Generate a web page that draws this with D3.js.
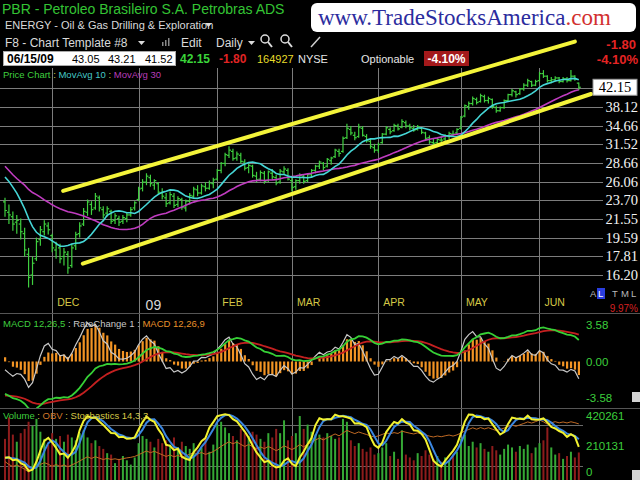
<!DOCTYPE html>
<html>
<head>
<meta charset="utf-8">
<script src="https://cdn.jsdelivr.net/npm/d3@7"></script>
<style>
body { margin: 0; background: #000; }
svg { display: block; }
text { font-family: "Liberation Sans", Arial, sans-serif; }
</style>
</head>
<body>
<svg id="chart" width="640" height="480"></svg>
<script>
// closes before the first visible bar, only used to warm up the indicators
var priorCloses = [41, 40, 38.5, 37, 34, 31, 32.5, 29, 27, 29.5, 31, 29, 28, 26, 24.5,
    23, 22, 21.5, 23, 25, 27, 28, 28.5, 29, 29.5, 28, 27, 26, 25, 23.5];

var opens = [23.5, 22.3, 21.8, 21.2, 21.0, 20.0, 18.0, 16.2, 17.6, 19.4,
    20.2, 20.8, 19.8, 18.4, 18.6, 17.8, 18.0, 17.0, 18.8, 20.0,
    21.0, 22.3, 23.2, 22.8, 24.0, 22.6, 22.2, 22.4, 21.4, 21.6,
    21.3, 21.6, 22.0, 22.8, 23.8, 25.2, 26.0, 26.6, 25.6, 25.8,
    24.6, 24.0, 23.4, 24.2, 23.2, 23.8, 22.8, 23.6, 24.2, 25.0,
    24.6, 25.4, 25.2, 25.8, 26.4, 27.6, 28.6, 29.8, 30.4, 29.4,
    29.8, 28.8, 28.0, 28.2, 26.8, 26.4, 27.2, 26.2, 27.2, 26.6,
    26.0, 27.4, 27.6, 26.2, 25.4, 26.2, 26.8, 26.2, 27.0, 27.6,
    28.2, 28.6, 28.2, 29.0, 29.6, 30.4, 30.4, 32.6, 34.0, 33.0,
    32.8, 34.2, 32.8, 32.0, 31.0, 30.6, 31.8, 33.2, 34.0, 33.8,
    34.6, 34.4, 35.2, 34.6, 34.2, 34.0, 34.2, 33.4, 32.6, 31.8,
    31.8, 32.2, 32.4, 32.8, 33.2, 33.4, 34.2, 36.4, 38.2, 38.8,
    39.6, 39.2, 40.2, 39.4, 39.6, 38.0, 37.4, 38.0, 39.4, 40.6,
    41.2, 40.8, 41.8, 42.6, 43.4, 42.6, 43.6, 45.2, 44.6, 43.6,
    43.8, 44.2, 43.4, 44.0, 43.6, 44.6, 43.05];

var highs = [24.0, 23.2, 22.4, 22.0, 21.6, 20.6, 18.6, 17.8, 19.6, 20.8,
    21.4, 21.2, 20.0, 19.2, 19.0, 18.6, 18.3, 19.0, 20.2, 21.2,
    22.8, 23.8, 23.6, 24.6, 24.3, 23.0, 23.0, 22.6, 22.2, 21.9,
    22.0, 22.3, 22.9, 23.6, 25.4, 26.4, 27.2, 27.0, 26.4, 26.0,
    25.2, 24.6, 24.8, 24.6, 24.2, 24.0, 23.8, 24.6, 25.4, 25.6,
    25.8, 26.0, 26.2, 26.6, 27.8, 28.8, 30.2, 31.2, 30.8, 30.4,
    30.2, 29.2, 28.6, 28.4, 27.4, 27.6, 27.5, 27.6, 27.8, 27.0,
    27.8, 28.2, 27.9, 26.6, 26.4, 27.2, 27.0, 27.2, 27.8, 28.4,
    29.0, 28.8, 29.4, 29.6, 30.8, 30.8, 32.8, 35.0, 34.6, 33.6,
    35.0, 34.6, 33.2, 32.4, 31.6, 31.8, 33.4, 34.6, 34.4, 35.0,
    35.0, 35.8, 35.6, 35.0, 34.8, 34.8, 34.4, 33.6, 33.0, 32.4,
    32.6, 32.8, 33.2, 33.6, 33.8, 34.2, 36.4, 38.6, 39.2, 40.2,
    40.0, 40.8, 40.6, 40.2, 39.8, 38.4, 38.2, 39.6, 40.8, 41.8,
    41.4, 42.0, 43.0, 44.0, 43.6, 43.8, 45.6, 46.0, 44.8, 44.4,
    44.6, 44.4, 44.4, 44.4, 46.0, 44.8, 43.21];

var lows = [21.8, 21.0, 20.3, 20.0, 19.4, 17.8, 15.2, 15.4, 17.4, 18.8,
    19.8, 19.9, 18.2, 17.6, 17.2, 17.0, 16.3, 16.8, 18.4, 19.6,
    20.8, 21.9, 22.0, 22.6, 22.4, 21.6, 21.8, 21.0, 21.0, 20.8,
    21.0, 21.2, 21.8, 22.5, 23.6, 24.8, 25.6, 25.4, 25.0, 24.4,
    23.8, 22.9, 23.2, 22.8, 22.9, 22.6, 22.4, 23.2, 23.9, 24.2,
    24.4, 24.8, 25.0, 25.2, 26.2, 27.2, 28.2, 29.4, 29.0, 29.0,
    28.6, 27.6, 27.2, 26.6, 25.9, 26.1, 25.8, 26.0, 26.4, 25.6,
    25.8, 27.0, 26.2, 24.8, 25.0, 25.8, 25.8, 26.0, 26.6, 27.2,
    27.8, 27.6, 28.0, 28.4, 29.4, 29.6, 30.2, 32.4, 33.0, 32.2,
    32.6, 32.8, 31.8, 30.8, 30.2, 30.2, 31.6, 33.0, 33.2, 33.6,
    33.8, 34.2, 34.2, 33.8, 33.6, 33.8, 33.2, 32.2, 31.6, 31.2,
    31.4, 31.8, 32.0, 32.4, 32.8, 33.0, 34.0, 36.2, 37.6, 38.4,
    38.6, 39.0, 39.0, 38.8, 37.8, 37.0, 37.2, 37.8, 39.2, 40.2,
    40.0, 40.6, 41.4, 42.2, 42.2, 42.4, 43.4, 44.2, 43.2, 43.0,
    43.4, 43.0, 43.2, 43.2, 43.4, 43.6, 41.52];

var closes = [22.5, 22.0, 21.0, 21.4, 20.2, 18.4, 16.0, 17.2, 19.2, 20.4,
    21.0, 20.4, 18.6, 18.9, 17.6, 18.2, 16.8, 18.6, 19.9, 20.8,
    22.4, 23.5, 22.6, 24.2, 22.8, 22.0, 22.7, 21.3, 21.9, 21.2,
    21.7, 22.0, 22.6, 23.4, 25.1, 26.0, 26.8, 25.8, 26.2, 24.7,
    24.2, 23.3, 24.4, 23.1, 23.9, 22.9, 23.6, 24.3, 25.1, 24.6,
    25.5, 25.2, 25.9, 26.3, 27.6, 28.6, 29.9, 30.6, 29.3, 30.0,
    28.9, 27.9, 28.3, 26.9, 26.3, 27.3, 26.1, 27.4, 26.7, 25.9,
    27.5, 27.8, 26.4, 25.3, 26.2, 26.9, 26.1, 27.0, 27.6, 28.2,
    28.8, 28.0, 29.2, 29.4, 30.6, 30.1, 32.5, 34.2, 33.4, 32.6,
    34.4, 33.0, 32.1, 31.2, 30.6, 31.5, 33.2, 34.3, 33.6, 34.7,
    34.1, 35.4, 34.6, 34.3, 33.9, 34.5, 33.5, 32.5, 31.9, 31.7,
    32.3, 32.2, 32.9, 33.3, 33.2, 34.0, 36.2, 38.4, 38.8, 39.8,
    39.0, 40.4, 39.4, 39.8, 38.2, 37.4, 38.0, 39.4, 40.6, 41.4,
    40.6, 41.8, 42.6, 43.6, 42.6, 43.4, 45.2, 44.6, 43.6, 43.8,
    44.2, 43.4, 44.0, 43.6, 44.6, 43.95, 42.15];

var volumes = [260000, 410000, 290000, 240000, 300000, 330000, 380000, 350000, 400000, 310000, 260000, 220000,
    300000, 260000, 280000, 240000, 290000, 270000, 250000, 300000, 320000, 270000, 230000,
    250000, 210000, 190000, 160000, 150000, 90000, 120000, 140000, 110000, 80000, 130000,
    230000, 280000, 260000, 240000, 200000, 260000, 230000, 250000, 220000, 270000,
    200000, 240000, 210000, 190000, 230000, 180000, 200000, 260000, 170000, 220000,
    360000, 380000, 340000, 300000, 280000, 250000, 330000, 300000, 280000, 310000,
    290000, 260000, 240000, 300000, 270000, 330000, 300000, 390000, 250000,
    280000, 300000, 420000, 330000, 360000, 310000, 290000, 290000, 270000, 300000, 280000,
    260000, 270000, 400000, 380000, 250000, 210000, 230000, 190000, 170000, 200000, 150000,
    160000, 200000, 230000, 140000, 170000, 120000, 320000, 150000, 130000, 110000, 160000,
    140000, 180000, 150000, 120000, 140000, 100000, 130000, 110000, 150000, 170000,
    260000, 290000, 210000, 240000, 200000, 230000, 190000, 170000, 210000, 180000,
    150000, 190000, 220000, 200000, 170000, 210000, 190000, 220000, 160000, 200000,
    230000, 250000, 340000, 200000, 150000, 160000, 120000, 140000, 170000, 130000, 164927];

var monthLabels = ["DEC", "09", "FEB", "MAR", "APR", "MAY", "JUN"];
var monthStarts = [12, 34, 54, 73, 95, 116, 136];
var priceTicks = [16.20, 17.81, 19.59, 21.55, 23.70, 26.06, 28.66, 31.52, 34.66, 38.12, 41.93];
var macdTicks = [3.58, 0, -3.58];
var volumeTicks = [420261, 210131, 0];
// trend channel: [bar index, price] at each end
var channelUpper = [[14.8, 24.87], [145.0, 53.19]];
var channelLower = [[19.8, 17.16], [149.1, 40.73]];

var svg = d3.select("#chart");
var N = closes.length;
var plotRight = 583;

svg.append("rect").attr("width", 640).attr("height", 480).attr("fill", "#000");

var x = d3.scaleLinear().domain([0, N - 1]).range([5, 578.8]);
var y = d3.scaleLog().domain([16.20, 41.93]).range([275, 88.3]);
var yMacdAxis = d3.scaleLinear().domain([-3.58, 3.58]).range([398, 325]);
var yVol = d3.scaleLinear().domain([0, 420261]).range([476, 416]);
var yStoch = d3.scaleLinear().domain([0, 100]).range([479, 412]);

// ---- indicators
var allCloses = priorCloses.concat(closes);
var off = priorCloses.length;
function sma(arr, n, i) {
    var s = 0, k = 0;
    for (var j = Math.max(0, i - n + 1); j <= i; j++) { s += arr[j]; k++; }
    return s / k;
}
function ema(arr, n) {
    var k = 2 / (n + 1), prev = arr[0];
    return arr.map(function(v, i) { prev = i ? v * k + prev * (1 - k) : v; return prev; });
}
var ma10 = closes.map(function(c, i) { return sma(allCloses, 10, i + off); });
var ma30 = closes.map(function(c, i) { return sma(allCloses, 30, i + off); });
var e12 = ema(allCloses, 12), e26 = ema(allCloses, 26);
var macdAll = e12.map(function(v, i) { return v - e26[i]; });
var sigAll = ema(macdAll, 9);
var macd = macdAll.slice(off), signal = sigAll.slice(off);
var hist = macd.map(function(v, i) { return v - signal[i]; });
var rocAll = macdAll.map(function(v, i) { return i ? v - macdAll[i - 1] : 0; });
var roc = ema(rocAll, 4).slice(off);

var rawK = closes.map(function(c, i) {
    var s = Math.max(0, i - 13);
    var hh = d3.max(highs.slice(s, i + 1)), ll = d3.min(lows.slice(s, i + 1));
    return hh > ll ? 100 * (c - ll) / (hh - ll) : 50;
});
var slowK = rawK.map(function(v, i) { return d3.mean(rawK.slice(Math.max(0, i - 2), i + 1)); });
var stochD = slowK.map(function(v, i) { return d3.mean(slowK.slice(Math.max(0, i - 2), i + 1)); });

var acc = 0;
var obv = closes.map(function(c, i) {
    if (i > 0 && c > closes[i - 1]) acc += volumes[i];
    if (i > 0 && c < closes[i - 1]) acc -= volumes[i];
    return acc;
});

// ---- grid
var grid = svg.append("g").attr("stroke", "#7c7c7c").attr("shape-rendering", "crispEdges");
grid.selectAll(".hg").data(priceTicks).enter().append("line")
    .attr("x1", 0).attr("x2", 603)
    .attr("y1", function(d) { return Math.round(y(d)) + 0.5; })
    .attr("y2", function(d) { return Math.round(y(d)) + 0.5; });
grid.selectAll(".vg").data(monthStarts).enter().append("line")
    .attr("x1", function(d) { return Math.round(x(d)) + 0.5; })
    .attr("x2", function(d) { return Math.round(x(d)) + 0.5; })
    .attr("y1", 68).attr("y2", 480);
grid.selectAll(".sg").data([80, 20]).enter().append("line")
    .attr("x1", 0).attr("x2", plotRight)
    .attr("y1", function(d) { return Math.round(yStoch(d)) + 0.5; })
    .attr("y2", function(d) { return Math.round(yStoch(d)) + 0.5; })
    .attr("stroke", "#6a6a6a");
svg.append("g").attr("stroke", "#555").attr("shape-rendering", "crispEdges")
    .selectAll("line").data([313.5, 408.5]).enter().append("line")
    .attr("x1", 0).attr("x2", 640).attr("y1", function(d) { return d; }).attr("y2", function(d) { return d; });

// ---- price bars
var idx = d3.range(N);
var barG = svg.append("g").attr("stroke", "#3fcf3f").attr("stroke-width", 1.2);
barG.selectAll(".hl").data(idx).enter().append("line")
    .attr("x1", function(i) { return x(i); }).attr("x2", function(i) { return x(i); })
    .attr("y1", function(i) { return y(highs[i]); }).attr("y2", function(i) { return y(lows[i]); });
barG.selectAll(".op").data(idx).enter().append("line")
    .attr("x1", function(i) { return x(i) - 2; }).attr("x2", function(i) { return x(i); })
    .attr("y1", function(i) { return y(opens[i]); }).attr("y2", function(i) { return y(opens[i]); });
barG.selectAll(".cl").data(idx).enter().append("line")
    .attr("x1", function(i) { return x(i); }).attr("x2", function(i) { return x(i) + 2; })
    .attr("y1", function(i) { return y(closes[i]); }).attr("y2", function(i) { return y(closes[i]); });

var line = d3.line().x(function(d, i) { return x(i); });
svg.append("path").datum(ma30).attr("fill", "none").attr("stroke", "#c03cc0").attr("stroke-width", 1.6)
    .attr("d", line.y(function(d) { return y(d); }));
svg.append("path").datum(ma10).attr("fill", "none").attr("stroke", "#45d6d6").attr("stroke-width", 1.6)
    .attr("d", line.y(function(d) { return y(d); }));

svg.selectAll(".chan").data([channelUpper, channelLower]).enter().append("line")
    .attr("x1", function(d) { return x(d[0][0]); }).attr("y1", function(d) { return y(d[0][1]); })
    .attr("x2", function(d) { return x(d[1][0]); }).attr("y2", function(d) { return y(d[1][1]); })
    .attr("stroke", "#f4f43a").attr("stroke-width", 4).attr("stroke-linecap", "round");

// ---- price axis
svg.selectAll(".pt").data(priceTicks.slice(0, -1)).enter().append("text")
    .attr("x", 638).attr("y", function(d) { return y(d) + 5; })
    .attr("text-anchor", "end").attr("fill", "#f2f2f2")
    .style("font-family", "'Liberation Serif', serif").style("font-size", "14.5px")
    .text(function(d) { return d.toFixed(2); });
var last = closes[N - 1];
svg.append("rect").attr("x", 593).attr("y", y(last) - 8).attr("width", 44).attr("height", 16)
    .attr("fill", "#fff").attr("stroke", "#999");
svg.append("text").attr("x", 615).attr("y", y(last) + 5).attr("text-anchor", "middle").attr("fill", "#000")
    .style("font-family", "'Liberation Serif', serif").style("font-size", "14.5px").text(last.toFixed(2));

svg.selectAll(".ml").data(monthLabels).enter().append("text")
    .attr("x", function(d, i) { return x(monthStarts[i]) + (d == "09" ? 7 : 5); })
    .attr("y", function(d) { return d == "09" ? 310 : 306; })
    .attr("fill", function(d) { return d == "09" ? "#d8d8d8" : "#d6c846"; })
    .style("font-size", function(d) { return d == "09" ? "14px" : "10.5px"; })
    .text(function(d) { return d; });

// ---- MACD panel
svg.append("clipPath").attr("id", "clipM").append("rect").attr("x", 0).attr("y", 314).attr("width", plotRight).attr("height", 94);
var mG = svg.append("g").attr("clip-path", "url(#clipM)");
var lineMax = d3.max(macd.concat(signal), function(d) { return Math.abs(d); });
var yMacd = d3.scaleLinear().domain([-lineMax, lineMax]).range([410, 314]);
var histMax = d3.max(hist, function(d) { return Math.abs(d); });
var yHist = d3.scaleLinear().domain([-histMax, histMax]).range([398, 325]);
var rocMax = d3.max(roc, function(d) { return Math.abs(d); });
var yRoc = d3.scaleLinear().domain([-rocMax, rocMax]).range([400, 323]);
mG.selectAll(".hb").data(hist).enter().append("rect")
    .attr("x", function(d, i) { return x(i) - 1; }).attr("width", 2.2)
    .attr("y", function(d) { return Math.min(yHist(d), yHist(0)); })
    .attr("height", function(d) { return Math.abs(yHist(d) - yHist(0)); })
    .attr("fill", "#f29424");
mG.append("path").datum(roc).attr("fill", "none").attr("stroke", "#c8c8c8").attr("stroke-width", 1.2)
    .attr("d", line.y(function(d) { return yRoc(d); }));
mG.append("path").datum(signal).attr("fill", "none").attr("stroke", "#c42020").attr("stroke-width", 1.8)
    .attr("d", line.y(function(d) { return yMacd(d); }));
mG.append("path").datum(macd).attr("fill", "none").attr("stroke", "#36d036").attr("stroke-width", 1.8)
    .attr("d", line.y(function(d) { return yMacd(d); }));
svg.selectAll(".mt").data(macdTicks).enter().append("text")
    .attr("x", 586).attr("y", function(d) { return yMacdAxis(d) + 4; })
    .attr("fill", "#3ccf3c").style("font-size", "11.5px")
    .text(function(d) { return d.toFixed(2); });

// ---- volume panel
svg.append("clipPath").attr("id", "clipV").append("rect").attr("x", 0).attr("y", 409).attr("width", plotRight).attr("height", 71);
var vG = svg.append("g").attr("clip-path", "url(#clipV)");
vG.selectAll(".vb").data(volumes).enter().append("rect")
    .attr("x", function(d, i) { return x(i) - 1; }).attr("width", 2)
    .attr("y", function(d) { return yVol(d); })
    .attr("height", function(d) { return 480 - yVol(d); })
    .attr("fill", function(d, i) {
        var up = i == 0 ? closes[i] >= opens[i] : closes[i] >= closes[i - 1];
        return up ? "#35a835" : "#8e1c1c";
    });
var yObv = d3.scaleLinear().domain(d3.extent(obv)).range([472, 420]);
vG.append("path").datum(obv).attr("fill", "none").attr("stroke", "#c06a24").attr("stroke-width", 1)
    .attr("d", line.y(function(d) { return yObv(d); }));
vG.append("path").datum(stochD).attr("fill", "none").attr("stroke", "#3a86e0").attr("stroke-width", 2)
    .attr("d", line.y(function(d) { return yStoch(d); }));
vG.append("path").datum(slowK).attr("fill", "none").attr("stroke", "#f2f230").attr("stroke-width", 2)
    .attr("d", line.y(function(d) { return yStoch(d); }));
svg.selectAll(".vt").data(volumeTicks).enter().append("text")
    .attr("x", 586).attr("y", function(d) { return Math.min(yVol(d) + 4, 476); })
    .attr("fill", "#3ccf3c").style("font-size", "11.5px")
    .text(function(d) { return d; });

svg.selectAll(".sq").data([392, 470]).enter().append("rect")
    .attr("x", 632).attr("y", function(d) { return d; }).attr("width", 8).attr("height", 10).attr("fill", "#d4d4d4");

// ---- legends
function legend(yy, parts) {
    var t = svg.append("text").attr("x", 3).attr("y", yy).style("font-size", "9.5px");
    parts.forEach(function(p) { t.append("tspan").attr("fill", p[1]).text(p[0]); });
}
legend(78, [["Price Chart", "#3fcf3f"], [" : ", "#d6c846"], ["MovAvg 10", "#45c8c8"], [" : ", "#d6c846"], ["MovAvg 30", "#b83cb8"]]);
legend(327, [["MACD 12,26,5", "#3fcf3f"], [" : RateChange 1 : ", "#c8c8c8"], ["MACD 12,26,9", "#e8902a"]]);
legend(419, [["Volume", "#3fcf3f"], [" : ", "#d6c846"], ["OBV", "#d0782a"], [" : ", "#d6c846"], ["Stochastics 14,3,3", "#d6c846"]]);

// ---- header
svg.append("text").attr("x", 2).attr("y", 14).attr("fill", "#34c434").style("font-size", "14px")
    .text("PBR - Petroleo Brasileiro S.A. Petrobras ADS");
svg.append("text").attr("x", 5).attr("y", 29).attr("fill", "#dadada").style("font-size", "11px")
    .text("ENERGY - Oil & Gas Drilling & Exploration");
svg.append("text").attr("x", 5).attr("y", 47).attr("fill", "#dadada").style("font-size", "12px")
    .text("F8 - Chart Template #8");
svg.append("text").attr("x", 181).attr("y", 47).attr("fill", "#dadada").style("font-size", "12px").text("Edit");
svg.append("text").attr("x", 216).attr("y", 47).attr("fill", "#dadada").style("font-size", "12px").text("Daily");
svg.selectAll(".arr").data([[205, 23], [138, 41], [248, 41]]).enter().append("path")
    .attr("d", function(d) { return "M" + d[0] + "," + d[1] + "h7l-3.5,4z"; }).attr("fill", "#dadada");
svg.selectAll(".ib").data([[162, 4], [165, 6], [168, 8]]).enter().append("rect")
    .attr("x", function(d) { return d[0]; }).attr("y", function(d) { return 46 - d[1]; })
    .attr("width", 1.5).attr("height", function(d) { return d[1]; }).attr("fill", "#888");
svg.selectAll(".mag").data([265, 285]).enter().append("circle")
    .attr("cx", function(d) { return d; }).attr("cy", 39).attr("r", 4)
    .attr("fill", "none").attr("stroke", "#dcdcdc").attr("stroke-width", 1.5);
svg.selectAll(".magh").data([265, 285]).enter().append("line")
    .attr("x1", function(d) { return d + 3; }).attr("y1", 42).attr("x2", function(d) { return d + 7; }).attr("y2", 47)
    .attr("stroke", "#dcdcdc").attr("stroke-width", 2);
svg.append("line").attr("x1", 311).attr("y1", 47).attr("x2", 320).attr("y2", 37).attr("stroke", "#cfcfcf").attr("stroke-width", 1.5);

svg.append("rect").attr("x", 3.5).attr("y", 51.5).attr("width", 172).attr("height", 14).attr("fill", "#fff").attr("stroke", "#aaa");
var quote = [["06/15/09", 7, "#000", "bold", "12px"], ["43.05", 72, "#000", "normal", "11px"], ["43.21", 108, "#000", "normal", "11px"],
    ["41.52", 145, "#000", "normal", "11px"], ["42.15", 180, "#3ad43a", "bold", "12px"], ["-1.80", 219, "#e02424", "bold", "12px"],
    ["164927", 257, "#e6dc2a", "normal", "11px"], ["NYSE", 298, "#e6e6e6", "normal", "11px"], ["Optionable", 361, "#e6e6e6", "normal", "11px"]];
svg.selectAll(".q").data(quote).enter().append("text")
    .attr("x", function(d) { return d[1]; }).attr("y", 63)
    .attr("fill", function(d) { return d[2]; }).style("font-weight", function(d) { return d[3]; })
    .style("font-size", function(d) { return d[4]; }).text(function(d) { return d[0]; });
svg.append("rect").attr("x", 424).attr("y", 51).attr("width", 45).attr("height", 15).attr("fill", "#a3191b");
svg.append("text").attr("x", 446.5).attr("y", 63).attr("text-anchor", "middle").attr("fill", "#fff")
    .style("font-weight", "bold").style("font-size", "12px").text("-4.10%");

svg.append("rect").attr("x", 311).attr("y", 3).attr("width", 325).attr("height", 29).attr("rx", 6).attr("fill", "#fff");
var site = svg.append("text").attr("x", 318).attr("y", 25)
    .style("font-family", "'Liberation Serif', serif").style("font-size", "23px");
site.append("tspan").attr("fill", "#2c2c9e").text("www.TradeStocksAmerica");
site.append("tspan").attr("fill", "#d23030").text(".com");

svg.append("text").attr("x", 636).attr("y", 49).attr("text-anchor", "end").attr("fill", "#e52424")
    .style("font-weight", "bold").style("font-size", "13px").text("-1.80");
svg.append("text").attr("x", 638).attr("y", 64).attr("text-anchor", "end").attr("fill", "#e52424")
    .style("font-weight", "bold").style("font-size", "13px").text("-4.10%");

svg.append("rect").attr("x", 597).attr("y", 288).attr("width", 8).attr("height", 11).attr("fill", "#2a3ee0");
svg.selectAll(".tm").data(["A", "L", "T", "M", "L"]).enter().append("text")
    .attr("x", function(d, i) { return [590, 598, 612, 621, 631][i]; }).attr("y", 297)
    .attr("fill", function(d, i) { return i == 1 ? "#fff" : "#b8b8b8"; }).style("font-size", "9.5px")
    .text(function(d) { return d; });
svg.append("text").attr("x", 638).attr("y", 312).attr("text-anchor", "end").attr("fill", "#d42020")
    .style("font-size", "10px").text("9.97%");
</script>
</body>
</html>
